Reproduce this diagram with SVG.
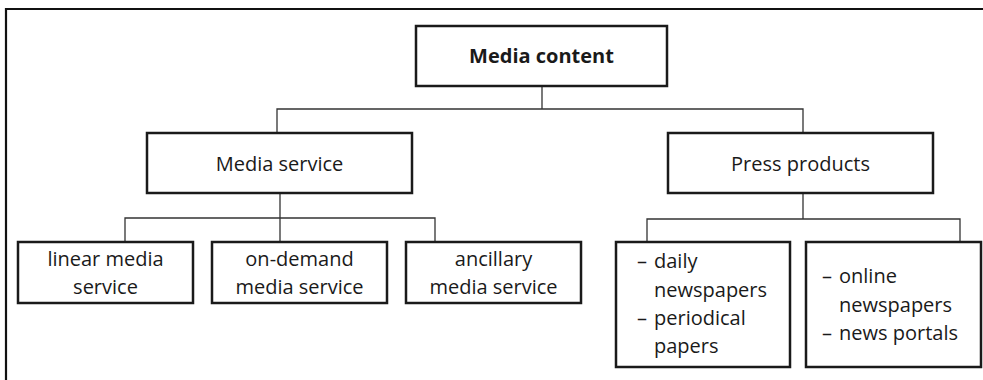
<svg xmlns="http://www.w3.org/2000/svg" width="983" height="380" viewBox="0 0 983 380">
  <style>
    .box { fill: #ffffff; stroke: #1a1a1a; stroke-width: 2.5; }
    .frame { fill: none; stroke: #111111; stroke-width: 2.2; }
    .wire { fill: none; stroke: #333333; stroke-width: 1.3; }
    text { font-family: "Open Sans", "Noto Sans", "Liberation Sans", sans-serif; font-size: 20px; fill: #1a1a1a; }
    .c { text-anchor: middle; }
    .b { font-weight: bold; }
  </style>
  <rect width="983" height="380" fill="#ffffff"/>

  <!-- outer frame: top and left edges -->
  <path class="frame" d="M6,380 V9 H983"/>

  <!-- connectors -->
  <g id="connectors">
    <path class="wire" d="M542,86 V109 M277,133 V109 H803 V133"/>
    <path class="wire" d="M280,193 V218 M125,242 V218 H435 V242 M280,218 V242"/>
    <path class="wire" d="M803,193 V219 M647,242 V219 H960 V242"/>
  </g>

  <g id="media-content">
    <rect class="box" x="416" y="26" width="251" height="60"/>
    <text class="c b" x="541.5" y="63">Media content</text>
  </g>

  <g id="media-service">
    <rect class="box" x="147" y="133" width="265" height="60"/>
    <text class="c" x="279.5" y="171">Media service</text>
  </g>

  <g id="press-products">
    <rect class="box" x="668" y="133" width="265" height="60"/>
    <text class="c" x="800.5" y="171">Press products</text>
  </g>

  <g id="linear-media-service">
    <rect class="box" x="18" y="242" width="175" height="61"/>
    <text class="c" x="105.5" y="266">linear media</text>
    <text class="c" x="105.5" y="294">service</text>
  </g>

  <g id="on-demand-media-service">
    <rect class="box" x="212" y="242" width="175" height="61"/>
    <text class="c" x="299.5" y="266">on-demand</text>
    <text class="c" x="299.5" y="294">media service</text>
  </g>

  <g id="ancillary-media-service">
    <rect class="box" x="406" y="242" width="175" height="61"/>
    <text class="c" x="493.5" y="266">ancillary</text>
    <text class="c" x="493.5" y="294">media service</text>
  </g>

  <g id="print-press">
    <rect class="box" x="616" y="242" width="174" height="125"/>
    <text y="268"><tspan x="637">–</tspan><tspan x="654">daily</tspan></text>
    <text x="654" y="297">newspapers</text>
    <text y="325"><tspan x="637">–</tspan><tspan x="654">periodical</tspan></text>
    <text x="654" y="353">papers</text>
  </g>

  <g id="online-press">
    <rect class="box" x="806" y="242" width="175" height="125"/>
    <text y="283"><tspan x="822">–</tspan><tspan x="839">online</tspan></text>
    <text x="839" y="312">newspapers</text>
    <text y="340"><tspan x="822">–</tspan><tspan x="839">news portals</tspan></text>
  </g>
</svg>
